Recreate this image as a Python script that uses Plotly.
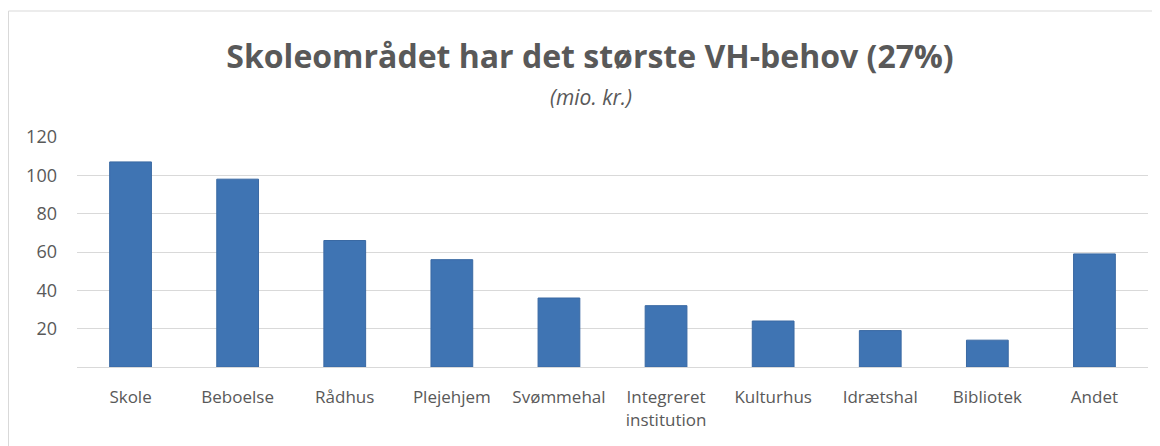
import plotly.graph_objects as go

categories = ["Skole", "Beboelse", "Rådhus", "Plejehjem", "Svømmehal",
              "Integreret<br>institution", "Kulturhus", "Idrætshal", "Bibliotek", "Andet"]
values = [107, 98, 66, 56, 36, 32, 24, 19, 14, 59]
y_ticks = [20, 40, 60, 80, 100, 120]

# page body has an 8px margin; figure coordinates below are page coords minus 8
OFF = 8
W, H = 1160 - OFF, 446 - OFF
L, R, T, B = 77 - OFF, 12, 137 - OFF, 79
PW, PH = W - L - R, H - T - B


def px(xpage):
    return (xpage - OFF - L) / PW


def py(ypage):
    return (H - B - (ypage - OFF)) / PH


fig = go.Figure(go.Bar(
    x=categories, y=values,
    marker=dict(color="#3F74B3", line=dict(color="#3A69A3", width=1)),
    width=0.39,
))

fig.update_layout(
    width=W, height=H,
    margin=dict(l=L, r=R, t=T, b=B),
    paper_bgcolor="white", plot_bgcolor="white",
    showlegend=False,
    title=dict(text="<b>Skoleområdet har det største VH-behov (27%)</b>",
               x=(590 - OFF) / W, xref="container", xanchor="center",
               y=1 - (57 - OFF) / H, yref="container", yanchor="middle",
               font=dict(family="Open Sans", size=32, color="#595959")),
    annotations=[dict(text="<i>(mio. kr.)</i>", xref="paper", yref="paper",
                      x=px(591), y=py(97),
                      xanchor="center", yanchor="middle", showarrow=False,
                      font=dict(family="Open Sans", size=21, color="#595959"))],
    xaxis=dict(showline=True, linecolor="#D9D9D9", linewidth=1,
               tickfont=dict(family="Open Sans", size=17, color="#595959"),
               ticks="", showgrid=False, ticklabelstandoff=15),
    yaxis=dict(range=[0, 120], tickvals=y_ticks, showgrid=True,
               gridcolor="#D9D9D9", gridwidth=1, zeroline=False,
               tickfont=dict(family="Open Sans", size=18, color="#595959"),
               ticks="", ticklabelstandoff=19),
    shapes=[
        dict(type="line", xref="paper", yref="paper",
             x0=px(8.5), x1=px(8.5), y0=py(11), y1=py(446),
             line=dict(color="#D9D9D9", width=1)),
        dict(type="line", xref="paper", yref="paper",
             x0=px(8.5), x1=px(1160), y0=py(11), y1=py(11),
             line=dict(color="#D9D9D9", width=1)),
    ],
)

fig.write_html("out.html")
